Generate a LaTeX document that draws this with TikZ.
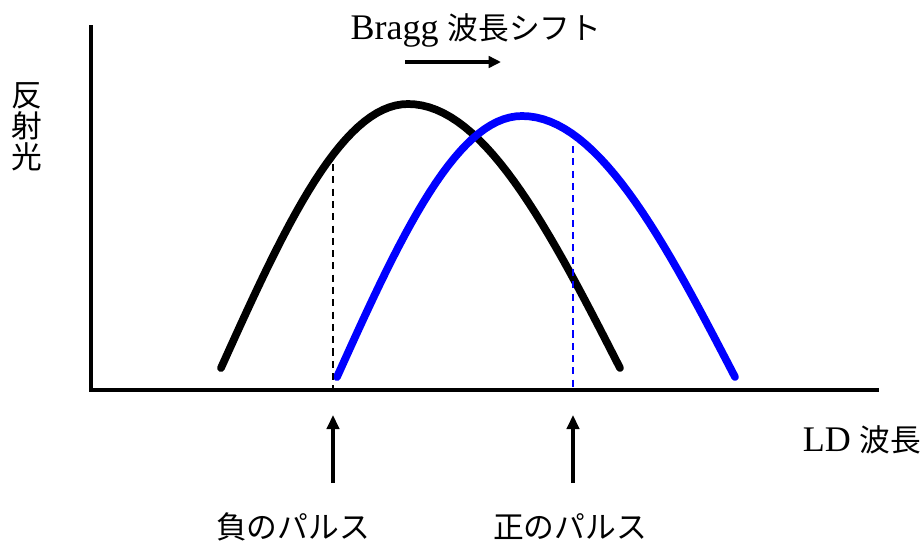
\documentclass[tikz,border=0pt]{standalone}
\usepackage{fontspec}
\setmainfont{Liberation Serif}
\newfontfamily\jp{Noto Sans CJK JP}
\usetikzlibrary{arrows.meta, positioning}

\begin{document}
\begin{tikzpicture}[x=0.02cm, y=-0.02cm,
		axisline/.style={line width=2.4pt},
		peakline/.style={line width=4.4pt, line cap=round, line join=round},
		marker/.style={line width=0.9pt, dash pattern={on 4pt off 3pt}},
		pulse/.style={line width=2.3pt, -{Triangle[length=8pt, width=7pt]}},
		shiftarrow/.style={line width=1.8pt, -{Triangle[length=7pt, width=6.5pt]}},
		lbl/.style={font=\fontsize{20.5}{22}\selectfont, inner sep=0pt},
		jplbl/.style={font=\fontsize{17.5}{17.5}\selectfont\jp, inner sep=0pt}]
	\useasboundingbox (0,0) rectangle (924,549);
	% Axes:
	\coordinate (O) at (91,390);
	\coordinate (Ytop) at (91,25);
	\coordinate (Xend) at (879,390);
	\draw[axisline] (Ytop) -- (O) -- (Xend);
	\node[jplbl, align=center] (refl) at (27,127) {反\\射\\光};
	\node[lbl] (ldwl) at (862,440) {LD {\fontsize{17.5}{17.5}\selectfont\jp 波長}};
	% Spectra before and after the shift:
	\draw[peakline] plot[domain=-90:90, samples=61] ({408+((\x<0)*187+(\x>=0)*212)*(\x/90)}, {368-264*cos(\x)});
	\draw[peakline, blue] plot[domain=-90:90, samples=61] ({522+((\x<0)*185+(\x>=0)*213)*(\x/90)}, {377-261*cos(\x)});
	% Markers:
	\coordinate (Ntop) at (333,164);
	\coordinate (Nbot) at (333,390);
	\coordinate (Ptop) at (573,146);
	\coordinate (Pbot) at (573,388);
	\draw[marker] (Ntop) -- (Nbot);
	\draw[marker, blue] (Ptop) -- (Pbot);
	% Shift label:
	\node[lbl] (shift) at (476,30) {Bragg {\fontsize{17.5}{17.5}\selectfont\jp 波長シフト}};
	\coordinate (S1) at (405,62);
	\coordinate (S2) at (501,62);
	\draw[shiftarrow] (S1) -- (S2);
	% Pulses:
	\coordinate (Ntail) at (333,483);
	\coordinate (Nhead) at (333,415);
	\coordinate (Ptail) at (573,483);
	\coordinate (Phead) at (573,415);
	\draw[pulse] (Ntail) -- (Nhead);
	\draw[pulse] (Ptail) -- (Phead);
	\node[jplbl] (neg) at (293,527) {負のパルス};
	\node[jplbl] (pos) at (570,527) {正のパルス};
\end{tikzpicture}
\end{document}
